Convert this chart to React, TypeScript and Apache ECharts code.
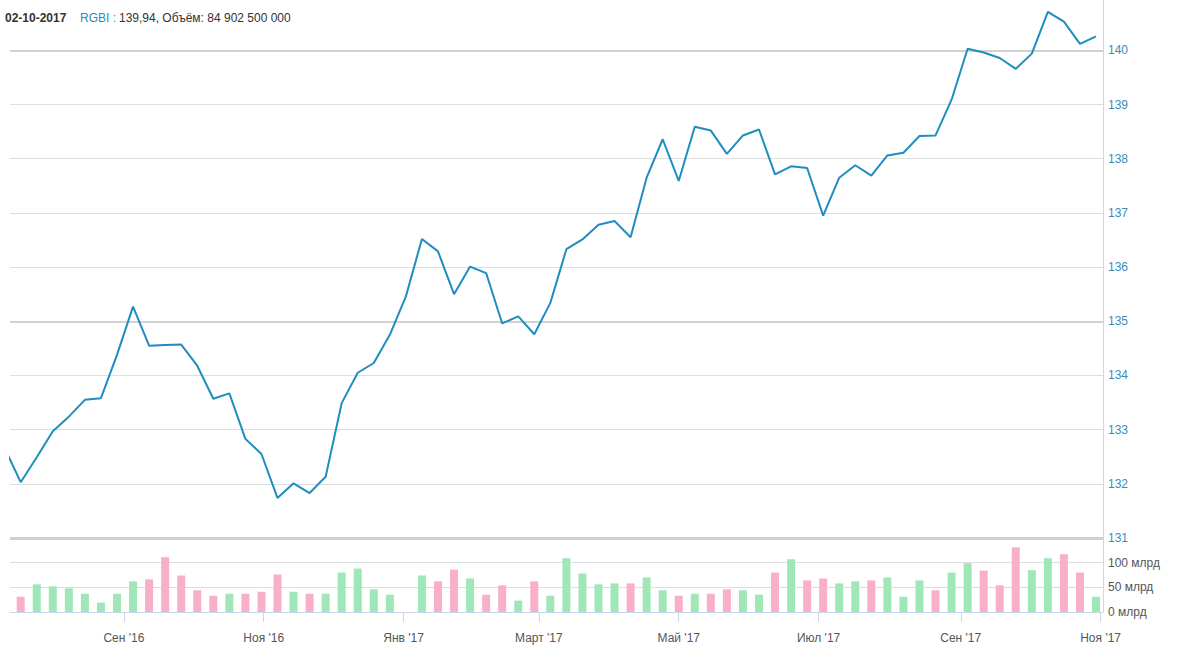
import React, { useEffect, useRef } from "react";
import * as echarts from "echarts";

// Weekly observations (Mondays), first one lies just left of the visible range
const firstWeek = Date.UTC(2016, 6, 11);
const weekMs = 7 * 86400000;

const priceValues = [
  132.66, 132.03, 132.49, 132.97, 133.24, 133.55, 133.58, 134.38, 135.27, 134.55,
  134.56, 134.57, 134.18, 133.57, 133.67, 132.83, 132.55, 131.74, 132.01, 131.83,
  132.13, 133.49, 134.05, 134.23, 134.75, 135.46, 136.52, 136.29, 135.5, 136.01,
  135.89, 134.96, 135.09, 134.76, 135.34, 136.33, 136.51, 136.78, 136.85, 136.55,
  137.65, 138.36, 137.59, 138.59, 138.52, 138.09, 138.43, 138.54, 137.71, 137.86,
  137.83, 136.95, 137.65, 137.88, 137.69, 138.06, 138.11, 138.42, 138.43, 139.09,
  140.03, 139.96, 139.86, 139.66, 139.94, 140.71, 140.53, 140.12, 140.26,
];

// Volume, billions of roubles
const volumeValues = [
  null, 31, 56, 52, 48, 37, 19, 37, 62, 66,
  111, 74, 44, 33, 37, 37, 41, 76, 41, 37,
  37, 80, 88, 46, 35, null, 74, 62, 86, 68,
  35, 54, 23, 62, 33, 109, 78, 56, 58, 58,
  70, 44, 33, 37, 37, 46, 44, 35, 80, 107,
  64, 68, 58, 62, 64, 70, 31, 64, 44, 80,
  99, 84, 54, 131, 84.9025, 109, 117, 80, 31,
];

// Bar direction: u = green, d = pink
const volumeDirection = [
  "", "d", "u", "u", "u", "u", "u", "u", "u", "d",
  "d", "d", "d", "d", "u", "d", "d", "d", "u", "d",
  "u", "u", "u", "u", "u", "u", "u", "d", "d", "u",
  "d", "d", "u", "d", "u", "u", "u", "u", "u", "d",
  "u", "u", "d", "u", "d", "d", "u", "u", "d", "u",
  "d", "d", "u", "u", "d", "u", "u", "u", "d", "u",
  "u", "d", "d", "d", "u", "u", "d", "d", "u",
];

const priceTicks = [131, 132, 133, 134, 135, 136, 137, 138, 139, 140];

const tickDates = [
  Date.UTC(2016, 8, 1), Date.UTC(2016, 10, 1), Date.UTC(2017, 0, 1), Date.UTC(2017, 2, 1),
  Date.UTC(2017, 4, 1), Date.UTC(2017, 6, 1), Date.UTC(2017, 8, 1), Date.UTC(2017, 10, 1),
];
const tickLabels = ["Сен '16", "Ноя '16", "Янв '17", "Март '17", "Май '17", "Июл '17", "Сен '17", "Ноя '17"];

const highlightIndex = 64;
const xMin = Date.UTC(2016, 6, 13, 8);
const xMax = Date.UTC(2017, 10, 2, 1);
const priceMin = 131;
const priceMax = 140.93;

const FONT = '"Liberation Sans", Arial, sans-serif';

function fmtDate(t: number) {
  const d = new Date(t);
  const p = (n: number) => (n < 10 ? "0" + n : "" + n);
  return p(d.getUTCDate()) + "-" + p(d.getUTCMonth() + 1) + "-" + d.getUTCFullYear();
}
function fmtBig(n: number) {
  return Math.round(n).toString().replace(/\B(?=(\d{3})+(?!\d))/g, " ");
}

export default function App() {
  const ref = useRef<HTMLDivElement>(null);
  useEffect(() => {
    if (!ref.current) return;
    const chart = echarts.init(ref.current, null, { renderer: "svg" });
    const dates = priceValues.map((_, i) => firstWeek + i * weekMs);
    const priceData = priceValues.map((v, i) => [dates[i], v]);
    const volData = volumeValues.map((v, i) => ({
      value: [dates[i], v],
      itemStyle: { color: volumeDirection[i] === "d" ? "#f9afc9" : "#a0e7b8" },
    }));

    const headerDate = fmtDate(dates[highlightIndex]);
    const headerPrice = priceValues[highlightIndex].toFixed(2).replace(".", ",");
    const headerVol = fmtBig((volumeValues[highlightIndex] as number) * 1e9);

    const gridLines = priceTicks.map((t) => {
      if (t === priceMin) return { yAxis: t, lineStyle: { width: 3, color: "#d0d0d0" } };
      if (t % 5 === 0) return { yAxis: t, lineStyle: { width: 2, color: "#d2d2d2" } };
      return { yAxis: t, lineStyle: { width: 1, color: "#dedede" } };
    });

    const axisColor = "#ccd6eb";
    chart.setOption({
      animation: false,
      backgroundColor: "#ffffff",
      textStyle: { fontFamily: FONT },
      grid: [
        { left: 10, right: 78, top: 0, height: 538 },
        { left: 10, right: 78, top: 538, height: 74 },
      ],
      xAxis: [
        { type: "value", gridIndex: 0, min: xMin, max: xMax, show: false, splitLine: { show: false } },
        {
          type: "value",
          gridIndex: 1,
          min: xMin,
          max: xMax,
          offset: 6,
          axisLine: { show: true, lineStyle: { color: axisColor, width: 1 } },
          axisTick: { show: true, customValues: tickDates, length: 10, lineStyle: { color: axisColor } },
          axisLabel: {
            customValues: tickDates,
            color: "#555",
            fontSize: 12,
            fontFamily: FONT,
            margin: 14,
            showMinLabel: true,
            showMaxLabel: true,
            formatter: (v: number) => {
              const k = tickDates.findIndex((t) => Math.abs(t - v) < 3600000);
              return k >= 0 ? tickLabels[k] : "";
            },
          },
          splitLine: { show: false },
        },
      ],
      yAxis: [
        {
          type: "value",
          gridIndex: 0,
          position: "right",
          min: priceMin,
          max: priceMax,
          axisLine: { show: true, lineStyle: { color: axisColor } },
          axisTick: { show: false },
          axisLabel: {
            customValues: priceTicks,
            color: "#3a8cbd",
            fontSize: 12,
            fontFamily: FONT,
            margin: 5,
            formatter: (v: number) => String(v),
          },
          splitLine: { show: false },
        },
        {
          type: "value",
          gridIndex: 1,
          position: "right",
          min: 0,
          max: 150,
          interval: 50,
          axisLine: { show: true, lineStyle: { color: axisColor } },
          axisTick: { show: false },
          axisLabel: {
            color: "#555",
            fontSize: 12,
            fontFamily: FONT,
            margin: 5,
            showMaxLabel: false,
            formatter: (v: number) => v + " млрд",
          },
          splitLine: { show: true, lineStyle: { color: "#dedede", width: 1 } },
        },
      ],
      series: [
        {
          type: "line",
          xAxisIndex: 0,
          yAxisIndex: 0,
          data: [[dates[1], priceMin]],
          showSymbol: false,
          symbol: "none",
          lineStyle: { opacity: 0 },
          z: 1,
          silent: true,
          markLine: {
            silent: true,
            symbol: ["none", "none"],
            label: { show: false },
            lineStyle: { type: "solid", color: "#dedede", width: 1 },
            data: gridLines,
          },
        },
        {
          type: "line",
          name: "RGBI",
          xAxisIndex: 0,
          yAxisIndex: 0,
          data: priceData,
          showSymbol: false,
          symbol: "none",
          lineStyle: { color: "#1f8dbf", width: 2 },
          z: 5,
        },
        {
          type: "bar",
          xAxisIndex: 1,
          yAxisIndex: 1,
          data: volData,
          barWidth: 8,
          z: 3,
        },
      ],
      graphic: [
        {
          type: "text",
          x: 5,
          y: 18,
          style: { text: headerDate, font: "bold 12px " + FONT, fill: "#333", verticalAlign: "middle" },
        },
        {
          type: "text",
          x: 80,
          y: 18,
          style: { text: "RGBI :", font: "12px " + FONT, fill: "#1f8dbf", verticalAlign: "middle" },
        },
        {
          type: "text",
          x: 119,
          y: 18,
          style: {
            text: headerPrice + ", Объём: " + headerVol,
            font: "12px " + FONT,
            fill: "#333",
            verticalAlign: "middle",
          },
        },
      ],
    });
    return () => chart.dispose();
  }, []);
  return <div ref={ref} style={{ position: "fixed", left: 0, top: 0, width: 1181, height: 648 }} />;
}
